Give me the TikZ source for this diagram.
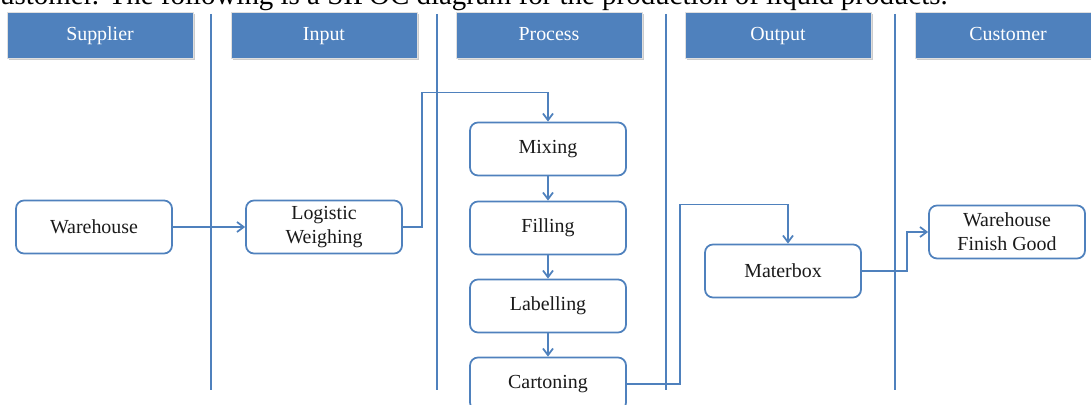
\documentclass[tikz,border=0pt]{standalone}
\usepackage{fontspec}
\setmainfont{Liberation Serif}
\usetikzlibrary{positioning, arrows.meta, shadows}
\usepackage{xcolor}
\definecolor{SipocBlue}{HTML}{4F81BD}
\definecolor{SipocText}{HTML}{1A1A1A}

\begin{document}
\begin{tikzpicture}[x=0.03cm, y=-0.03cm,
            head/.style={rectangle, draw=gray!25, line width=0.6pt, fill=SipocBlue, text=white, minimum width=5.58cm, minimum height=1.38cm, text height=2.4ex, text depth=0.2ex, font=\fontsize{17}{19}\selectfont, drop shadow={shadow xshift=0.05cm, shadow yshift=-0.05cm, fill=black, opacity=0.2}},
            stage/.style={rectangle, rounded corners=0.24cm, draw=SipocBlue, line width=1.5pt, fill=white, text=SipocText, minimum width=4.68cm, minimum height=1.59cm, align=center, font=\fontsize{17}{20.5}\selectfont},
            arrow/.style={-{Straight Barb[length=0.2cm, width=0.3cm]}, line width=1.5pt, SipocBlue},
            lane/.style={line width=1.5pt, SipocBlue}
        ]
            \useasboundingbox (0,0) rectangle (1091,405);

            % Intro line (cut at the top)
            \node[anchor=base east, inner sep=0pt, font=\fontsize{24.7}{27}\selectfont] (intro) at (948,5) {ustomer. The following is a SIPOC diagram for the production of liquid products.};

            % Lanes
            \foreach \x in {211,437,666,895}
                \draw[lane] (\x,14) -- (\x,390);

            % Headers
            \node[head] (supplier) at (100,35) {Supplier};
            \node[head] (input) at (324,35) {Input};
            \node[head] (process) at (549,35) {Process};
            \node[head] (output) at (778,35) {Output};
            \node[head] (customer) at (1008,35) {Customer};

            % Boxes
            \node[stage] (warehouse) at (94,227) {Warehouse};
            \node[stage] (logistic) at (324,227) {Logistic\\Weighing};
            \node[stage] (mixing) at (548,149) {Mixing};
            \node[stage] (filling) at (548,228) {Filling};
            \node[stage] (labelling) at (548,306) {Labelling};
            \node[stage] (cartoning) at (548,384) {Cartoning};
            \node[stage] (materbox) at (783,271) {Materbox};
            \node[stage] (finish) at (1007,232) {Warehouse\\Finish Good};

            % Arrows
            \draw[arrow] (warehouse) -- (logistic);
            \draw[arrow] (logistic.east) -- ++(19,0) |- ([yshift=0.87cm]mixing.north) -- (mixing.north);
            \draw[arrow] (mixing) -- (filling);
            \draw[arrow] (filling) -- (labelling);
            \draw[arrow] (labelling) -- (cartoning);
            \draw[arrow] (cartoning.east) -- ++(53,0) |- ([xshift=0.15cm, yshift=1.17cm]materbox.north) -- ([xshift=0.15cm]materbox.north);
            \draw[arrow] (materbox.east) -- ++(45,0) |- (finish.west);
        \end{tikzpicture}
\end{document}
